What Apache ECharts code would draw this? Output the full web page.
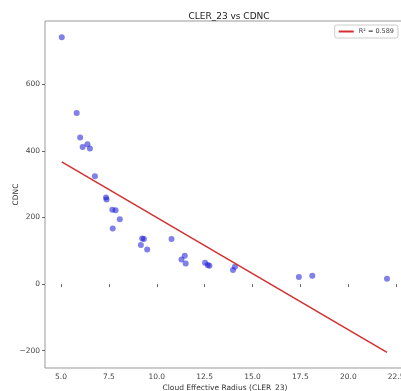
<!DOCTYPE html>
<html>
<head>
<meta charset="utf-8">
<script src="https://cdn.jsdelivr.net/npm/echarts@6/dist/echarts.min.js"></script>
<style>
  html, body { margin: 0; padding: 0; background: #fff; }
  #chart { width: 401px; height: 391px; }
</style>
</head>
<body>
<div id="chart"></div>
<script>
// scatter points
const clerX = [5.04, 5.82, 6.00, 6.13, 6.38, 6.51, 6.77, 7.35, 7.38, 7.68, 7.85, 8.07, 7.70,
  9.24, 9.33, 9.17, 9.50, 10.77, 11.29, 11.46, 11.51, 12.52, 12.66, 12.75, 13.98, 14.08,
  17.42, 18.12, 22.02];
const cdncY = [741, 514, 440, 412, 420, 407, 324, 260, 254, 223, 222, 195, 167,
  137, 135, 117, 104, 135, 74, 85, 62, 64, 57, 55, 42, 52,
  21, 25, 16];

// regression line end points
const fitX = [5.04, 22.02];
const fitY = [367, -205];

const xTicks = [5.0, 7.5, 10.0, 12.5, 15.0, 17.5, 20.0, 22.5];
const yTicks = [-200, 0, 200, 400, 600];
const fitLabel = "R\u00b2 = 0.589";

const FONT = "DejaVu Sans";
const chart = echarts.init(document.getElementById("chart"), null, { renderer: "canvas" });

chart.setOption({
  animation: false,
  backgroundColor: "#fff",
  title: {
    text: "CLER_23 vs CDNC",
    left: 224, top: 7, textAlign: "center",
    textStyle: { fontFamily: FONT, fontSize: 9, fontWeight: "normal", color: "#222" }
  },
  legend: {
    data: [fitLabel],
    right: 3, top: 25,
    orient: "vertical",
    backgroundColor: "#fff",
    borderColor: "#ccc", borderWidth: 1, borderRadius: 2,
    padding: [3, 4],
    itemWidth: 15, itemHeight: 2, icon: "rect", itemGap: 4,
    textStyle: { fontFamily: FONT, fontSize: 6.5, color: "#444" }
  },
  grid: {
    left: 45, top: 21, right: -4, bottom: 23,
    containLabel: false, outerBoundsMode: "none",
    show: true, borderColor: "#999", borderWidth: 1, backgroundColor: "transparent"
  },
  xAxis: {
    type: "value",
    min: 4.165, max: 22.96,
    name: "Cloud Effective Radius (CLER_23)",
    nameLocation: "middle", nameGap: 16, nameMoveOverlap: false,
    nameTextStyle: { fontFamily: FONT, fontSize: 7.5, color: "#333" },
    axisLine: { show: false },
    axisTick: { show: true, length: 3, customValues: xTicks, lineStyle: { color: "#666" } },
    axisLabel: {
      customValues: xTicks, fontFamily: FONT, fontSize: 7.5, color: "#444", margin: 5,
      formatter: v => v.toFixed(1)
    },
    splitLine: { show: false }
  },
  yAxis: {
    type: "value",
    min: -252, max: 790,
    name: "CDNC",
    nameLocation: "middle", nameGap: 25, nameRotate: 90, nameMoveOverlap: false,
    nameTextStyle: { fontFamily: FONT, fontSize: 7.5, color: "#333" },
    axisLine: { show: false },
    axisTick: { show: true, length: 3, customValues: yTicks, lineStyle: { color: "#666" } },
    axisLabel: {
      customValues: yTicks, fontFamily: FONT, fontSize: 7.5, color: "#444", margin: 5,
      formatter: v => (v < 0 ? "\u2212" + Math.abs(v) : String(v))
    },
    splitLine: { show: false }
  },
  series: [
    {
      type: "scatter",
      data: clerX.map((x, i) => [x, cdncY[i]]),
      symbolSize: 6,
      itemStyle: { color: "rgba(20,20,215,0.68)" },
      z: 2
    },
    {
      name: fitLabel,
      type: "line",
      data: fitX.map((x, i) => [x, fitY[i]]),
      symbol: "none",
      lineStyle: { color: "#d32f2f", width: 1.5 },
      itemStyle: { color: "#d32f2f" },
      z: 3
    }
  ]
});
</script>
</body>
</html>
